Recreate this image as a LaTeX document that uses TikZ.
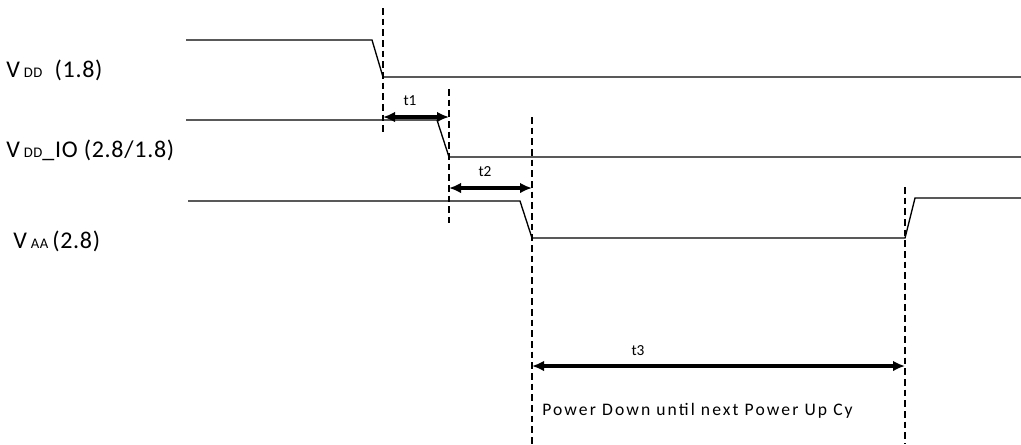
\documentclass[tikz,border=0pt]{standalone}
\usepackage{fontspec}
\setmainfont{Carlito}
\newfontfamily\spacedfont[LetterSpace=12]{Carlito}
\newfontfamily\railfont[LetterSpace=3]{Carlito}
\usetikzlibrary{arrows.meta}
\tikzset{
  >=Latex,
  wave/.style   = {line width=1pt},
  guide/.style  = {line width=1.5pt, dash pattern=on 5pt off 3pt},
  span/.style   = {{Latex[length=9pt,width=8pt]}-{Latex[length=9pt,width=8pt]},
                   line width=2.6pt},
  sig/.style    = {anchor=base west, inner sep=0pt, font=\railfont\fontsize{18}{18}\selectfont},
  tlabel/.style = {inner sep=0pt, font=\fontsize{11.5}{11.5}\selectfont},
  note/.style   = {anchor=west, inner sep=0pt, font=\spacedfont\fontsize{13.2}{13.2}\selectfont},
}
\newcommand{\subrail}[1]{{\fontsize{11}{11}\selectfont #1}}

\begin{document}
\begin{tikzpicture}[x=0.75pt, y=-0.75pt]
  \useasboundingbox (0,0) rectangle (1021,444);

  % Signal names
  \node[sig] (lvdd) at (6,77)  {V\,\subrail{DD}\ \ (1.8)};
  \node[sig] (lvio) at (6,157) {V\,\subrail{DD}\_IO (2.8/1.8)};
  \node[sig] (lvaa) at (13,248) {V\,\subrail{AA}\,(2.8)};

  % Waveform corners
  \coordinate (vdd0) at (186,40);  \coordinate (vdd1) at (372,40);
  \coordinate (vdd2) at (383,77);  \coordinate (vdd3) at (1021,77);
  \coordinate (vio0) at (186,120); \coordinate (vio1) at (437,120);
  \coordinate (vio2) at (449,157); \coordinate (vio3) at (1021,157);
  \coordinate (vaa0) at (188,201); \coordinate (vaa1) at (520,201);
  \coordinate (vaa2) at (532,238); \coordinate (vaa3) at (905,238);
  \coordinate (vaa4) at (915,198); \coordinate (vaa5) at (1021,198);

  \draw[wave] (vdd0) -- (vdd1) -- (vdd2) -- (vdd3);
  \draw[wave] (vio0) -- (vio1) -- (vio2) -- (vio3);
  \draw[wave] (vaa0) -- (vaa1) -- (vaa2) -- (vaa3) -- (vaa4) -- (vaa5);

  % Timing guides
  \coordinate (g1t) at (383,8);   \coordinate (g1b) at (383,135);
  \coordinate (g2t) at (449,89);  \coordinate (g2b) at (449,223);
  \coordinate (g3t) at (532,117); \coordinate (g3b) at (532,444);
  \coordinate (g4t) at (905,187); \coordinate (g4b) at (905,444);
  \foreach \g in {g1, g2, g3, g4}
    \draw[guide] (\g t) -- (\g b);

  % Intervals
  \coordinate (t1a) at (383,117); \coordinate (t1b) at (449,117);
  \coordinate (t2a) at (449,188); \coordinate (t2b) at (532,188);
  \coordinate (t3a) at (532,366); \coordinate (t3b) at (905,366);
  \draw[span] (t1a) -- (t1b);
  \draw[span] (t2a) -- (t2b);
  \draw[span] (t3a) -- (t3b);
  \node[tlabel] (t1) at (410,101) {t1};
  \node[tlabel] (t2) at (485,172) {t2};
  \node[tlabel] (t3) at (638,351) {t3};

  % Cut-off note
  \begin{scope}
    \clip (536,395) rectangle (852,428);
    \node[note] (pd) at (542,411) {Power Down until next Power Up Cycle};
  \end{scope}
\end{tikzpicture}
\end{document}
